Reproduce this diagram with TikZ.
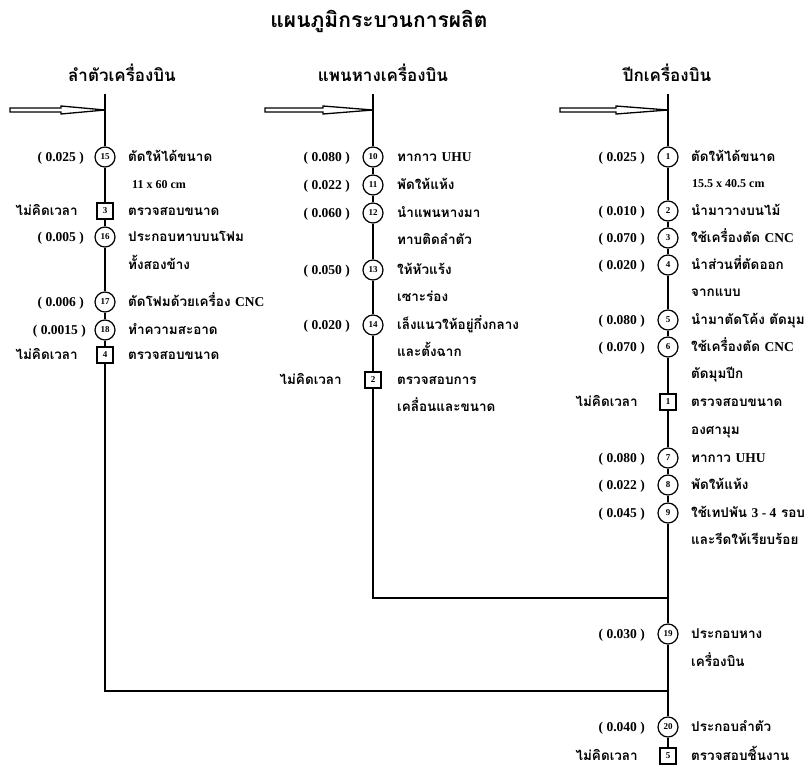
\documentclass[tikz,border=0pt]{standalone}
\usepackage{fontspec}
\setmainfont{Liberation Serif}
\newfontfamily\thf[Script=Thai]{Loma}
\tikzset{
  flow/.style={line width=1.3pt},
  proc/.style={circle,draw,line width=1.2pt,minimum size=20pt,inner sep=0pt,fill=white,font=\bfseries\fontsize{9}{9}\selectfont},
  insp/.style={rectangle,draw,line width=1.2pt,minimum size=16pt,inner sep=0pt,fill=white,font=\bfseries\fontsize{9}{9}\selectfont},
  tm/.style={anchor=east,inner sep=0pt,text height=10pt,text depth=2pt,font=\bfseries\fontsize{13.5}{13.5}\selectfont},
  nt/.style={anchor=east,inner sep=0pt,text height=10pt,text depth=2pt,font=\thf\bfseries\fontsize{13.5}{13.5}\selectfont},
  desc/.style={anchor=west,inner sep=0pt,text height=10pt,text depth=2pt,font=\thf\bfseries\fontsize{13.5}{13.5}\selectfont},
  lat/.style={anchor=west,inner sep=0pt,text height=10pt,text depth=2pt,font=\bfseries\fontsize{12}{12}\selectfont},
  head/.style={inner sep=0pt,font=\thf\bfseries\fontsize{17}{17}\selectfont},
  ttl/.style={inner sep=0pt,font=\thf\bfseries\fontsize{21}{21}\selectfont},
  bigarrow/.style={line width=1.3pt,fill=white}
}
\newcommand\lt[1]{{\rmfamily\bfseries #1}}
\begin{document}
\begin{tikzpicture}[x=1pt,y=-1pt]
\useasboundingbox (0,0) rectangle (811,774);
% titles
\node[ttl] (title) at (379,21) {แผนภูมิกระบวนการผลิต};
\node[head] (hL) at (122,73) {ลำตัวเครื่องบิน};
\node[head] (hM) at (383,73) {แพนหางเครื่องบิน};
\node[head] (hR) at (667,73) {ปีกเครื่องบิน};
% top coordinates
\coordinate (topL) at (105,94);
\coordinate (topM) at (373,94);
\coordinate (topR) at (668,94);
\coordinate (aL) at (105,110);
\coordinate (aM) at (373,110);
\coordinate (aR) at (668,110);
\coordinate (jM) at (373,598);
\coordinate (jRM) at (668,598);
\coordinate (jL) at (105,691);
\coordinate (jRL) at (668,691);
% ---------- left column
\node[proc] (c15) at (105,157) {15};
\node[insp] (s3) at (105,211) {3};
\node[proc] (c16) at (105,237) {16};
\node[proc] (c17) at (105,302) {17};
\node[proc] (c18) at (105,330) {18};
\node[insp] (s4) at (105,355) {4};
% ---------- middle column
\node[proc] (c10) at (373,157) {10};
\node[proc] (c11) at (373,185) {11};
\node[proc] (c12) at (373,213) {12};
\node[proc] (c13) at (373,270) {13};
\node[proc] (c14) at (373,325) {14};
\node[insp] (s2) at (373,380) {2};
% ---------- right column
\node[proc] (c1) at (668,157) {1};
\node[proc] (c2) at (668,211) {2};
\node[proc] (c3) at (668,238) {3};
\node[proc] (c4) at (668,265) {4};
\node[proc] (c5) at (668,320) {5};
\node[proc] (c6) at (668,347) {6};
\node[insp] (s1) at (668,402) {1};
\node[proc] (c7) at (668,458) {7};
\node[proc] (c8) at (668,485) {8};
\node[proc] (c9) at (668,513) {9};
\node[proc] (c19) at (668,634) {19};
\node[proc] (c20) at (668,727) {20};
\node[insp] (s5) at (668,756) {5};
% connectors
\draw[flow] (topL) -- (c15) -- (s3) -- (c16) -- (c17) -- (c18) -- (s4) -- (jL) -- (jRL);
\draw[flow] (topM) -- (c10) -- (c11) -- (c12) -- (c13) -- (c14) -- (s2) -- (jM) -- (jRM);
\draw[flow] (topR) -- (c1) -- (c2) -- (c3) -- (c4) -- (c5) -- (c6) -- (s1) -- (c7) -- (c8) -- (c9) -- (c19) -- (c20) -- (s5);
% input arrows
\draw[bigarrow] (aL) -- ++(-44,-4) -- ++(0,2) -- ++(-51,0) -- ++(0,4) -- ++(51,0) -- ++(0,2) -- cycle;
\draw[bigarrow] (aM) -- ++(-50,-4) -- ++(0,2) -- ++(-58,0) -- ++(0,4) -- ++(58,0) -- ++(0,2) -- cycle;
\draw[bigarrow] (aR) -- ++(-52,-4) -- ++(0,2) -- ++(-56,0) -- ++(0,4) -- ++(56,0) -- ++(0,2) -- cycle;
% ---------- left labels
\node[tm] (t15) at (84,157) {( 0.025 )};
\node[desc] (d15) at (128,157) {ตัดให้ได้ขนาด};
\node[lat] (d15b) at (132,184) {11 x 60 cm};
\node[nt] (t3) at (78,211) {ไม่คิดเวลา};
\node[desc] (d3) at (128,211) {ตรวจสอบขนาด};
\node[tm] (t16) at (84,237) {( 0.005 )};
\node[desc] (d16) at (128,237) {ประกอบทาบบนโฟม};
\node[desc] (d16b) at (128,265) {ทั้งสองข้าง};
\node[tm] (t17) at (84,302) {( 0.006 )};
\node[desc] (d17) at (128,302) {ตัดโฟมด้วยเครื่อง \lt{CNC}};
\node[tm] (t18) at (86,330) {( 0.0015 )};
\node[desc] (d18) at (128,330) {ทำความสะอาด};
\node[nt] (t4) at (78,355) {ไม่คิดเวลา};
\node[desc] (d4) at (128,355) {ตรวจสอบขนาด};
% ---------- middle labels
\node[tm] (t10) at (350,157) {( 0.080 )};
\node[desc] (d10) at (397,157) {ทากาว \lt{UHU}};
\node[tm] (t11) at (350,185) {( 0.022 )};
\node[desc] (d11) at (397,185) {พัดให้แห้ง};
\node[tm] (t12) at (350,213) {( 0.060 )};
\node[desc] (d12) at (397,213) {นำแพนหางมา};
\node[desc] (d12b) at (397,240) {ทาบติดลำตัว};
\node[tm] (t13) at (350,270) {( 0.050 )};
\node[desc] (d13) at (397,270) {ให้หัวแร้ง};
\node[desc] (d13b) at (397,297) {เซาะร่อง};
\node[tm] (t14) at (350,325) {( 0.020 )};
\node[desc] (d14) at (397,325) {เล็งแนวให้อยู่กึ่งกลาง};
\node[desc] (d14b) at (397,352) {และตั้งฉาก};
\node[nt] (t2) at (342,380) {ไม่คิดเวลา};
\node[desc] (d2) at (397,380) {ตรวจสอบการ};
\node[desc] (d2b) at (397,407) {เคลื่อนและขนาด};
% ---------- right labels
\node[tm] (t1) at (645,157) {( 0.025 )};
\node[desc] (d1) at (691,157) {ตัดให้ได้ขนาด};
\node[lat] (d1b) at (692,183) {15.5 x 40.5 cm};
\node[tm] (t2r) at (645,211) {( 0.010 )};
\node[desc] (d2r) at (691,211) {นำมาวางบนไม้};
\node[tm] (t3r) at (645,238) {( 0.070 )};
\node[desc] (d3r) at (691,238) {ใช้เครื่องตัด \lt{CNC}};
\node[tm] (t4r) at (645,265) {( 0.020 )};
\node[desc] (d4r) at (691,265) {นำส่วนที่ตัดออก};
\node[desc] (d4rb) at (691,292) {จากแบบ};
\node[tm] (t5) at (645,320) {( 0.080 )};
\node[desc] (d5) at (691,320) {นำมาตัดโค้ง ตัดมุม};
\node[tm] (t6) at (645,347) {( 0.070 )};
\node[desc] (d6) at (691,347) {ใช้เครื่องตัด \lt{CNC}};
\node[desc] (d6b) at (691,374) {ตัดมุมปีก};
\node[nt] (t1s) at (638,402) {ไม่คิดเวลา};
\node[desc] (d1s) at (691,402) {ตรวจสอบขนาด};
\node[desc] (d1sb) at (691,430) {องศามุม};
\node[tm] (t7) at (645,458) {( 0.080 )};
\node[desc] (d7) at (691,458) {ทากาว \lt{UHU}};
\node[tm] (t8) at (645,485) {( 0.022 )};
\node[desc] (d8) at (691,485) {พัดให้แห้ง};
\node[tm] (t9) at (645,513) {( 0.045 )};
\node[desc] (d9) at (691,513) {ใช้เทปพัน \lt{3 - 4} รอบ};
\node[desc] (d9b) at (691,540) {และรีดให้เรียบร้อย};
\node[tm] (t19) at (645,634) {( 0.030 )};
\node[desc] (d19) at (691,634) {ประกอบหาง};
\node[desc] (d19b) at (691,662) {เครื่องบิน};
\node[tm] (t20) at (645,727) {( 0.040 )};
\node[desc] (d20) at (691,727) {ประกอบลำตัว};
\node[nt] (t5s) at (638,756) {ไม่คิดเวลา};
\node[desc] (d5s) at (691,756) {ตรวจสอบชิ้นงาน};
\end{tikzpicture}
\end{document}
